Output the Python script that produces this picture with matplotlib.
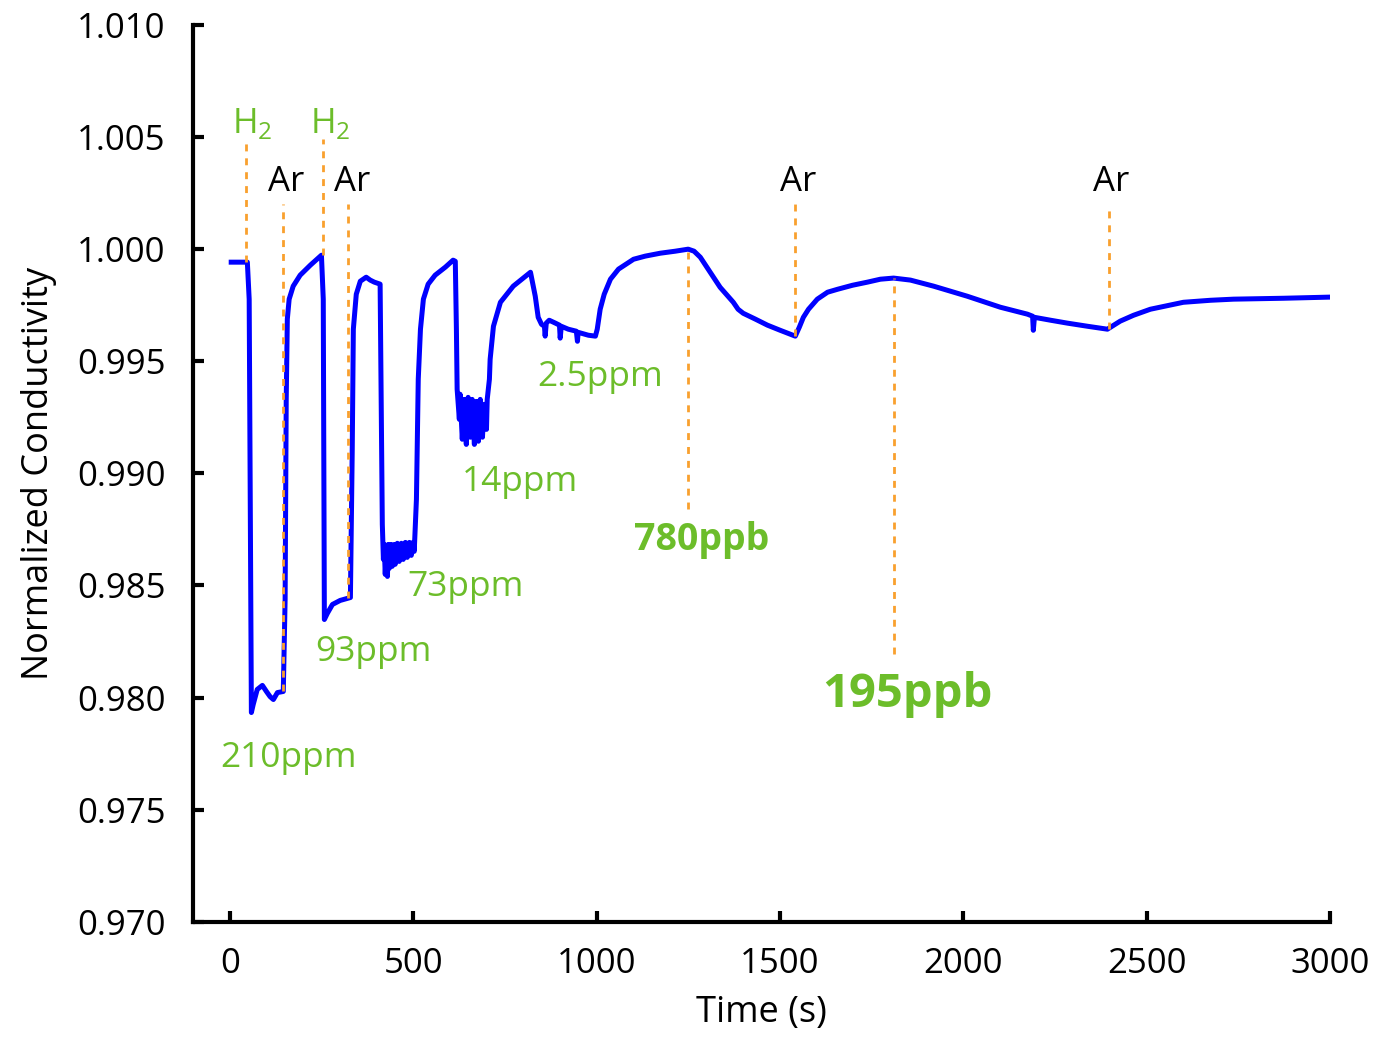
import matplotlib
matplotlib.use("Agg")
import matplotlib.pyplot as plt

plt.rcParams['font.family'] = ['Open Sans', 'DejaVu Sans']
plt.rcParams['mathtext.fontset'] = 'custom'
plt.rcParams['mathtext.rm'] = 'Open Sans'

# Conductivity trace (time in s, normalized conductivity)
time_s = [
    4, 48, 53, 59, 64, 75, 89, 100, 110, 119, 130, 146,
    151, 154, 157, 162, 173, 192, 220, 250,
    255, 258, 266, 280, 301, 329,
    334, 337, 345, 356, 372, 383, 394, 410,
    413, 416, 419, 421, 424, 427, 430, 432, 435, 440, 443, 449, 451, 457,
    462, 468, 473, 479, 484, 490, 495, 500, 503,
    509, 514, 520, 528, 541, 560, 588, 609,
    615, 618, 620, 626, 628, 634, 639, 645, 650, 656, 661, 667, 672, 678,
    683, 689, 694, 700, 702,
    708, 710, 719, 738, 773, 820,
    833, 841, 850, 858, 860, 863, 871, 888, 899, 901, 904, 923, 945, 948,
    950, 978, 997,
    1002, 1010, 1021, 1038, 1060, 1084, 1101, 1133, 1174, 1215, 1250,
    1266, 1283, 1310, 1337, 1373, 1386, 1400, 1433, 1466, 1501, 1542,
    1553, 1564, 1578, 1602, 1630, 1657, 1698, 1739, 1774, 1810,
    1856, 1919, 2011, 2101, 2175, 2189, 2191, 2194, 2238, 2284, 2339, 2393,
    2428, 2464, 2510, 2600, 2674, 2737, 2873, 2997,
]
conductivity = [
    0.99942, 0.99942, 0.99777, 0.97933, 0.97969, 0.98036, 0.98054, 0.98027,
    0.98004, 0.97991, 0.98022, 0.98027,
    0.98438, 0.99330, 0.99688, 0.99777, 0.99835, 0.99884, 0.99929, 0.99973,
    0.99777, 0.98348, 0.98375, 0.98415, 0.98433, 0.98446,
    0.99107, 0.99643, 0.99799, 0.99857, 0.99875, 0.99862, 0.99853, 0.99844,
    0.99330, 0.98772, 0.98616, 0.98683, 0.98549, 0.98670, 0.98540, 0.98683,
    0.98576, 0.98683, 0.98585, 0.98683, 0.98594, 0.98688,
    0.98607, 0.98688, 0.98616, 0.98692, 0.98625, 0.98692, 0.98634, 0.98692,
    0.98652,
    0.98884, 0.99420, 0.99643, 0.99777, 0.99844, 0.99884, 0.99920, 0.99951,
    0.99946, 0.99643, 0.99375, 0.99241, 0.99353, 0.99152, 0.99330, 0.99129,
    0.99339, 0.99161, 0.99330, 0.99129, 0.99321, 0.99143,
    0.99330, 0.99161, 0.99308, 0.99196, 0.99330,
    0.99420, 0.99509, 0.99656, 0.99763, 0.99835, 0.99897,
    0.99790, 0.99696, 0.99665, 0.99656, 0.99612, 0.99670, 0.99683, 0.99670,
    0.99661, 0.99603, 0.99656, 0.99643, 0.99634, 0.99589,
    0.99629, 0.99616, 0.99612,
    0.99643, 0.99732, 0.99799, 0.99866, 0.99911, 0.99937, 0.99955, 0.99969,
    0.99982, 0.99991, 1.00000,
    0.99991, 0.99964, 0.99897, 0.99830, 0.99763, 0.99732, 0.99714, 0.99688,
    0.99661, 0.99638, 0.99612,
    0.99652, 0.99696, 0.99732, 0.99777, 0.99808, 0.99821, 0.99839, 0.99853,
    0.99866, 0.99871,
    0.99862, 0.99835, 0.99790, 0.99741, 0.99710, 0.99701, 0.99638, 0.99696,
    0.99683, 0.99670, 0.99656, 0.99643,
    0.99679, 0.99705, 0.99732, 0.99763, 0.99772, 0.99777, 0.99781, 0.99786,
]

# Gas switching events: time, lower and upper end of the marker line
switch_times = [45, 146, 255, 323, 1542, 2396]
switch_low = [0.99942, 0.98027, 0.99973, 0.98446, 0.99612, 0.99643]
switch_high = [1.00491, 1.00201, 1.00491, 1.00201, 1.00201, 1.00201]

# Concentration pointers below the trace
pointer_times = [1250, 1810]
pointer_low = [0.98839, 0.98192]
pointer_high = [1.00000, 0.99871]

# Gas labels
gas_labels = ['H$_\\mathregular{2}$', 'Ar', 'H$_\\mathregular{2}$', 'Ar', 'Ar', 'Ar']
gas_label_x = [61, 154, 274, 334, 1551, 2404]
gas_label_y = [1.0056, 1.00299, 1.0056, 1.00299, 1.00299, 1.00299]
gas_label_colors = ['#6CBD2A', 'black', '#6CBD2A', 'black', 'black', 'black']

# Concentration labels
conc_labels = ['210ppm', '93ppm', '73ppm', '14ppm', '2.5ppm', '780ppb', '195ppb']
conc_x = [160, 391, 642, 790, 1010, 1286, 1848]
conc_y = [0.97732, 0.98201, 0.98491, 0.98960, 0.99429, 0.98701, 0.98013]
conc_sizes = [25.5, 25.5, 25.5, 25.5, 25.5, 27, 34]
conc_weights = ['normal'] * 5 + ['bold', 'bold']

green = '#6CBD2A'
orange = '#F9A02E'

fig = plt.figure(figsize=(13.81, 10.37), dpi=100)
ax = fig.add_axes([0.1398, 0.1112, 0.8233, 0.8647])

ax.plot(time_s, conductivity, color='#0000FF', lw=3.6, zorder=2,
        solid_joinstyle='round')

ax.vlines(switch_times, switch_low, switch_high, colors=orange,
          linestyles=(0, (2.5, 2.5)), lw=2.0, zorder=3)
ax.vlines(pointer_times, pointer_low, pointer_high, colors=orange,
          linestyles=(0, (2.5, 2.5)), lw=2.0, zorder=3)

for lab, x, y, c in zip(gas_labels, gas_label_x, gas_label_y, gas_label_colors):
    ax.text(x, y, lab, color=c, fontsize=25, ha='center', va='center')

for lab, x, y, s, w in zip(conc_labels, conc_x, conc_y, conc_sizes, conc_weights):
    ax.text(x, y, lab, color=green, fontsize=s, fontweight=w,
            ha='center', va='center')

ax.set_xlim(-100, 3000)
ax.set_ylim(0.970, 1.010)
ax.set_xticks([0, 500, 1000, 1500, 2000, 2500, 3000])
ax.set_yticks([0.970, 0.975, 0.980, 0.985, 0.990, 0.995, 1.000, 1.005, 1.010])
ax.yaxis.set_major_formatter(matplotlib.ticker.FormatStrFormatter('%.3f'))

for side in ['top', 'right']:
    ax.spines[side].set_visible(False)
for side in ['left', 'bottom']:
    ax.spines[side].set_linewidth(3)
ax.tick_params(direction='in', length=8, width=3, labelsize=25)
ax.tick_params(axis='y', pad=20)
ax.tick_params(axis='x', pad=18)

ax.set_xlabel('Time (s)', fontsize=26, labelpad=10)
ax.set_ylabel('Normalized Conductivity', fontsize=26, labelpad=14)

fig.savefig('out.png', dpi=100)
